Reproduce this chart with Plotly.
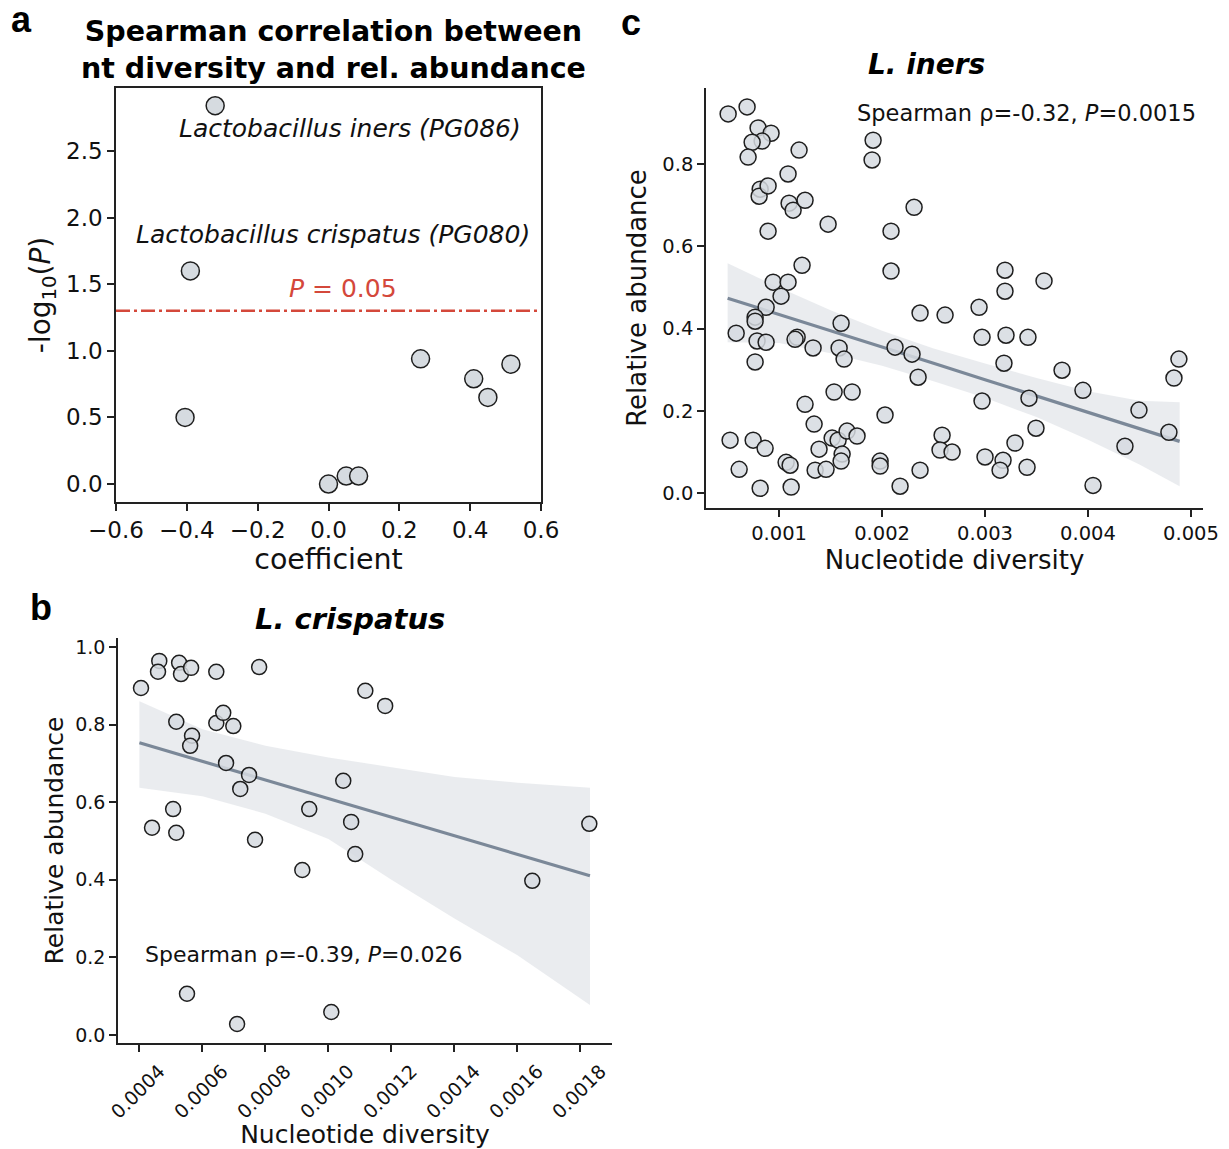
import plotly.graph_objects as go

# ---------------- data ----------------
# panel a: Spearman coefficient vs -log10(P)
a_coef = [-0.32, -0.39, -0.405, 0.0, 0.05, 0.085, 0.26, 0.41, 0.45, 0.515]
a_nlp = [2.84, 1.60, 0.50, 0.0, 0.06, 0.06, 0.94, 0.79, 0.65, 0.90]
a_thresh = 1.301  # -log10(0.05)

# panel b: L. crispatus
b_x = [4.05e-4, 4.63e-4, 4.59e-4, 5.26e-4, 5.32e-4, 5.64e-4, 6.44e-4, 7.80e-4, 5.17e-4, 6.44e-4,
       6.66e-4, 6.98e-4, 5.67e-4, 5.61e-4, 6.75e-4, 7.48e-4, 7.20e-4, 5.07e-4, 4.40e-4, 5.17e-4,
       7.67e-4, 9.39e-4, 10.47e-4, 10.72e-4, 10.85e-4, 9.17e-4, 11.17e-4, 11.80e-4, 18.28e-4, 16.47e-4,
       5.51e-4, 7.10e-4, 10.09e-4]
b_y = [0.894, 0.964, 0.936, 0.959, 0.930, 0.946, 0.936, 0.948, 0.807, 0.804,
       0.830, 0.796, 0.771, 0.745, 0.701, 0.670, 0.634, 0.582, 0.534, 0.521,
       0.503, 0.582, 0.655, 0.549, 0.466, 0.425, 0.887, 0.848, 0.544, 0.397,
       0.106, 0.028, 0.059]
b_fit_x = [0.0004, 0.0006, 0.0008, 0.0010, 0.0012, 0.0014, 0.0016, 0.00183]
b_fit_y = [0.753, 0.705, 0.657, 0.609, 0.561, 0.513, 0.465, 0.410]
b_band_hi = [0.860, 0.788, 0.745, 0.715, 0.690, 0.665, 0.650, 0.637]
b_band_lo = [0.637, 0.615, 0.570, 0.505, 0.400, 0.300, 0.205, 0.077]

# panel c: L. iners
c_x = [0.505, 0.689, 0.796, 0.922, 0.835, 0.738, 0.699, 1.194, 1.913, 1.903,
       1.087, 0.816, 0.806, 0.893, 1.097, 1.136, 1.252, 0.893, 1.476, 2.311,
       2.087, 1.223, 2.087, 0.942, 1.087, 1.019, 0.874, 0.767, 0.767, 2.369,
       2.612, 1.602, 0.583, 0.786, 0.874, 1.175, 1.155, 1.330, 1.583, 1.631,
       0.767, 2.126, 2.291, 2.350, 1.534, 1.709, 1.252, 1.340, 2.029, 0.524,
       0.748, 0.864, 1.515, 1.573, 1.660, 1.757, 1.388, 1.612, 1.602, 1.068,
       1.107, 0.612, 1.350, 1.456, 1.981, 1.981, 2.369, 2.583, 2.563, 2.680,
       0.816, 1.117, 2.175, 3.194, 3.194, 3.573, 2.942, 2.971, 3.204, 3.417,
       3.184, 3.748, 3.951, 2.971, 3.427, 4.883, 4.835, 4.495, 3.495, 4.786,
       4.359, 3.291, 3.000, 3.175, 3.146, 3.408, 4.049]
c_x = [v * 1e-3 for v in c_x]
c_y = [0.922, 0.939, 0.888, 0.875, 0.856, 0.853, 0.817, 0.834, 0.858, 0.810,
       0.776, 0.739, 0.722, 0.747, 0.705, 0.688, 0.712, 0.637, 0.654, 0.695,
       0.637, 0.554, 0.540, 0.513, 0.513, 0.479, 0.452, 0.428, 0.418, 0.438,
       0.433, 0.413, 0.389, 0.370, 0.367, 0.379, 0.374, 0.353, 0.353, 0.326,
       0.319, 0.355, 0.338, 0.282, 0.246, 0.246, 0.216, 0.168, 0.190, 0.129,
       0.129, 0.109, 0.134, 0.129, 0.151, 0.139, 0.107, 0.095, 0.078, 0.075,
       0.068, 0.058, 0.056, 0.058, 0.078, 0.066, 0.056, 0.141, 0.105, 0.100,
       0.012, 0.015, 0.017, 0.542, 0.491, 0.516, 0.452, 0.379, 0.384, 0.379,
       0.316, 0.299, 0.250, 0.224, 0.231, 0.326, 0.280, 0.202, 0.158, 0.148,
       0.114, 0.122, 0.088, 0.080, 0.056, 0.063, 0.019]
c_fit_x = [0.0005, 0.0010, 0.0015, 0.0020, 0.0025, 0.0030, 0.0035, 0.0040, 0.0045, 0.00489]
c_fit_y = [0.474, 0.435, 0.395, 0.355, 0.316, 0.276, 0.236, 0.197, 0.157, 0.126]
c_band_hi = [0.559, 0.500, 0.445, 0.395, 0.352, 0.315, 0.280, 0.248, 0.225, 0.221]
c_band_lo = [0.367, 0.365, 0.340, 0.310, 0.272, 0.232, 0.185, 0.130, 0.070, 0.017]

# ---------------- style ----------------
OFF = 8  # page body margin
W, H = 1229 - OFF, 1149 - OFF
FONT = "DejaVu Sans"
PT_FILL = "rgba(214,219,224,0.85)"
PT_LINE = "#1e1e1e"
FIT_COL = "#7b8898"
BAND_COL = "rgba(214,218,224,0.5)"
RED = "#d4483b"
AX = "#222222"


def px(x):
    return (x - OFF) / W


def py(y):
    return 1 - (y - OFF) / H


def axis(domain, rng, tickvals, fmt, fs, **kw):
    d = dict(domain=domain, range=rng, tickvals=tickvals, tickformat=fmt, automargin=False,
             showgrid=False, zeroline=False, showline=True, linecolor=AX, linewidth=1.5,
             ticks="outside", ticklen=7, tickwidth=1.5, tickcolor=AX,
             tickfont=dict(family=FONT, size=fs, color="#111"))
    d.update(kw)
    return d


fig = go.Figure()

# panel a
fig.add_trace(go.Scatter(x=a_coef, y=a_nlp, mode="markers", xaxis="x", yaxis="y",
                         marker=dict(size=18, color="rgb(214,219,224)", line=dict(color=PT_LINE, width=1.5)),
                         showlegend=False))

# panel c band + fit + points
fig.add_trace(go.Scatter(x=c_fit_x + c_fit_x[::-1], y=c_band_hi + c_band_lo[::-1], fill="toself",
                         fillcolor=BAND_COL, line=dict(width=0), mode="lines", xaxis="x3", yaxis="y3",
                         showlegend=False, hoverinfo="skip"))
fig.add_trace(go.Scatter(x=c_fit_x, y=c_fit_y, mode="lines", line=dict(color=FIT_COL, width=3.2),
                         xaxis="x3", yaxis="y3", showlegend=False))
fig.add_trace(go.Scatter(x=c_x, y=c_y, mode="markers", xaxis="x3", yaxis="y3",
                         marker=dict(size=16, color=PT_FILL, line=dict(color=PT_LINE, width=1.5)),
                         showlegend=False))

# panel b band + fit + points
fig.add_trace(go.Scatter(x=b_fit_x + b_fit_x[::-1], y=b_band_hi + b_band_lo[::-1], fill="toself",
                         fillcolor=BAND_COL, line=dict(width=0), mode="lines", xaxis="x2", yaxis="y2",
                         showlegend=False, hoverinfo="skip"))
fig.add_trace(go.Scatter(x=b_fit_x, y=b_fit_y, mode="lines", line=dict(color=FIT_COL, width=3.2),
                         xaxis="x2", yaxis="y2", showlegend=False))
fig.add_trace(go.Scatter(x=b_x, y=b_y, mode="markers", xaxis="x2", yaxis="y2",
                         marker=dict(size=15, color=PT_FILL, line=dict(color=PT_LINE, width=1.5)),
                         showlegend=False))

# threshold line in panel a
fig.add_shape(type="line", xref="x domain", yref="y", x0=0, x1=1, y0=a_thresh, y1=a_thresh,
              line=dict(color=RED, width=2.5, dash="14px,4px,3px,4px"))

ann = []


def pann(text, x, y, size, family=FONT, color="#000"):
    ann.append(dict(text=text, x=px(x), y=py(y), xref="paper", yref="paper",
                    xanchor="center", yanchor="middle", showarrow=False,
                    font=dict(family=family, size=size, color=color)))


# panel letters
pann("<b>a</b>", 21, 20, 36, family="Liberation Sans")
pann("<b>b</b>", 41, 607, 36, family="Liberation Sans")
pann("<b>c</b>", 631, 22, 36, family="Liberation Sans")
# titles
pann("<b>Spearman correlation between<br>nt diversity and rel. abundance</b>", 333, 50, 28.5)
pann("<b><i>L. iners</i></b>", 926, 65, 28)
pann("<b><i>L. crispatus</i></b>", 350, 619, 29)

# panel a labels (data coordinates)
for text, x, y, col in [("<i>Lactobacillus iners (PG086)</i>", 0.061, 2.67, "#111"),
                        ("<i>Lactobacillus crispatus (PG080)</i>", 0.013, 1.87, "#111"),
                        ("<i>P</i> = 0.05", 0.04, 1.47, RED)]:
    ann.append(dict(text=text, x=x, y=y, xref="x", yref="y", xanchor="center", yanchor="middle",
                    showarrow=False, font=dict(family=FONT, size=25, color=col)))
# stats
ann.append(dict(text="Spearman ρ=-0.32, <i>P</i>=0.0015", x=0.001738, y=0.924, xref="x3", yref="y3",
                xanchor="left", yanchor="middle", showarrow=False,
                font=dict(family=FONT, size=22.5, color="#111")))
ann.append(dict(text="Spearman ρ=-0.39, <i>P</i>=0.026", x=0.000412, y=0.206, xref="x2", yref="y2",
                xanchor="left", yanchor="middle", showarrow=False,
                font=dict(family=FONT, size=22, color="#111")))

fig.update_layout(
    template="none",
    width=W, height=H, margin=dict(l=0, r=0, t=0, b=0, autoexpand=False),
    paper_bgcolor="white", plot_bgcolor="white", showlegend=False,
    font=dict(family=FONT, color="#111"),
    xaxis=axis([px(116), px(541)], [-0.6, 0.6], [-0.6, -0.4, -0.2, 0.0, 0.2, 0.4, 0.6], ".1f", 23,
               anchor="y", mirror=True,
               title=dict(text="coefficient", font=dict(family=FONT, size=28.5), standoff=3)),
    yaxis=axis([py(502), py(88)], [-0.135, 2.973], [0.0, 0.5, 1.0, 1.5, 2.0, 2.5], ".1f", 23,
               anchor="x", mirror=True,
               title=dict(text="-log<sub>10</sub>(<i>P</i>)", font=dict(family=FONT, size=28), standoff=7)),
    xaxis2=axis([px(118), px(612)], [0.000332, 0.0019],
                [0.0004, 0.0006, 0.0008, 0.0010, 0.0012, 0.0014, 0.0016, 0.0018], ".4f", 19,
                anchor="y2", tickangle=-45, ticklabelshift=20, ticklabelstandoff=1,
                title=dict(text="Nucleotide diversity", font=dict(family=FONT, size=25), standoff=2)),
    yaxis2=axis([py(1043), py(638)], [-0.021, 1.023], [0.0, 0.2, 0.4, 0.6, 0.8, 1.0], ".1f", 19,
                anchor="x2",
                title=dict(text="Relative abundance", font=dict(family=FONT, size=25), standoff=4)),
    xaxis3=axis([px(706), px(1203)], [0.00029, 0.005117],
                [0.001, 0.002, 0.003, 0.004, 0.005], ".3f", 19.5, anchor="y3",
                title=dict(text="Nucleotide diversity", font=dict(family=FONT, size=26), standoff=6)),
    yaxis3=axis([py(508), py(88)], [-0.036, 0.985], [0.0, 0.2, 0.4, 0.6, 0.8], ".1f", 19.5,
                anchor="x3",
                title=dict(text="Relative abundance", font=dict(family=FONT, size=26), standoff=8)),
    annotations=ann,
)

fig.write_html("out.html")
